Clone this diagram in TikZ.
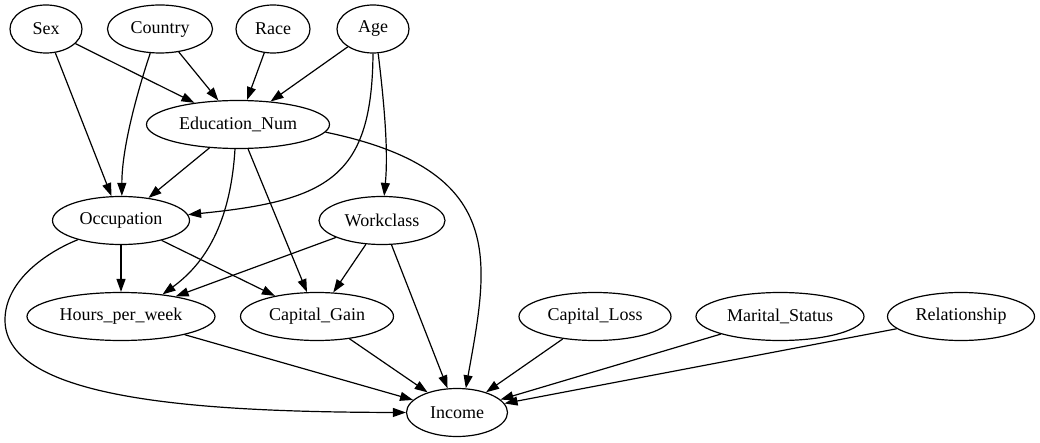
\documentclass[tikz,border=0pt]{standalone}
\usepackage{fontspec}
\setmainfont{Liberation Serif}
\usepackage{tikz}
\usetikzlibrary{arrows.meta, shapes.geometric}
\tikzstyle{var}=[ellipse, draw, line width=1.2pt, minimum height=48pt, inner sep=0pt, font=\fontsize{18}{20}\selectfont]
\tikzstyle{dep}=[->, line width=1.2pt]

\begin{document}
\begin{tikzpicture}[x=1pt, y=1pt, >={Triangle[length=13pt, width=9pt]}]
          \useasboundingbox (0,0) rectangle (1040,-443);

          % parents
          \node[var, minimum width=72pt] (sex) at (46,-29) {Sex};
          \node[var, minimum width=105pt] (country) at (160,-29) {Country};
          \node[var, minimum width=74pt] (race) at (273,-29) {Race};
          \node[var, minimum width=72pt] (age) at (373,-29) {Age};

          \node[var, minimum width=183pt] (edu) at (238,-124.5) {Education\_Num};
          \node[var, minimum width=137pt] (occ) at (121,-220.5) {Occupation};
          \node[var, minimum width=126pt] (work) at (382,-220.5) {Workclass};

          \node[var, minimum width=188pt] (hours) at (121,-316.5) {Hours\_per\_week};
          \node[var, minimum width=153pt] (gain) at (317,-316.5) {Capital\_Gain};
          \node[var, minimum width=152pt] (loss) at (595,-316.5) {Capital\_Loss};
          \node[var, minimum width=168pt] (marital) at (780,-316.5) {Marital\_Status};
          \node[var, minimum width=147pt] (relation) at (961,-316.5) {Relationship};

          \node[var, minimum width=101pt] (income) at (457,-412.5) {Income};

          % edges
          \draw[dep] (sex) -- (edu);
          \draw[dep] (sex) -- (occ);
          \draw[dep] (country) -- (edu);
          \draw[dep] (country.-112) .. controls +(-14,-42) and +(0,47) .. (occ.88);
          \draw[dep] (race) -- (edu);
          \draw[dep] (age) -- (edu);
          \draw[dep] (age.south) .. controls +(-1,-123) and +(141,14) .. (occ.5);
          \draw[dep] (age.-78) .. controls +(7,-58) and +(4,42) .. (work.85);
          \draw[dep] (edu) -- (occ);
          \draw[dep] (edu.-97) .. controls +(-5,-82) and +(37,27) .. (hours.28);
          \draw[dep] (edu) -- (gain);
          \draw[dep] (edu.-5) .. controls +(183,-38) and +(23,128) .. (income.70);
          \draw[dep] (occ) -- (hours);
          \draw[dep] (occ) -- (gain);
          \draw[dep] (occ.204) .. controls +(-30,-12) and (5,-280) .. (5,-320)
                .. controls (5,-400) and (200,-412) .. (income.west);
          \draw[dep] (work) -- (hours);
          \draw[dep] (work) -- (gain);
          \draw[dep] (work) -- (income);
          \draw[dep] (hours) -- (income);
          \draw[dep] (gain) -- (income);
          \draw[dep] (loss) -- (income);
          \draw[dep] (marital) -- (income);
          \draw[dep] (relation) -- (income);
\end{tikzpicture}
\end{document}
